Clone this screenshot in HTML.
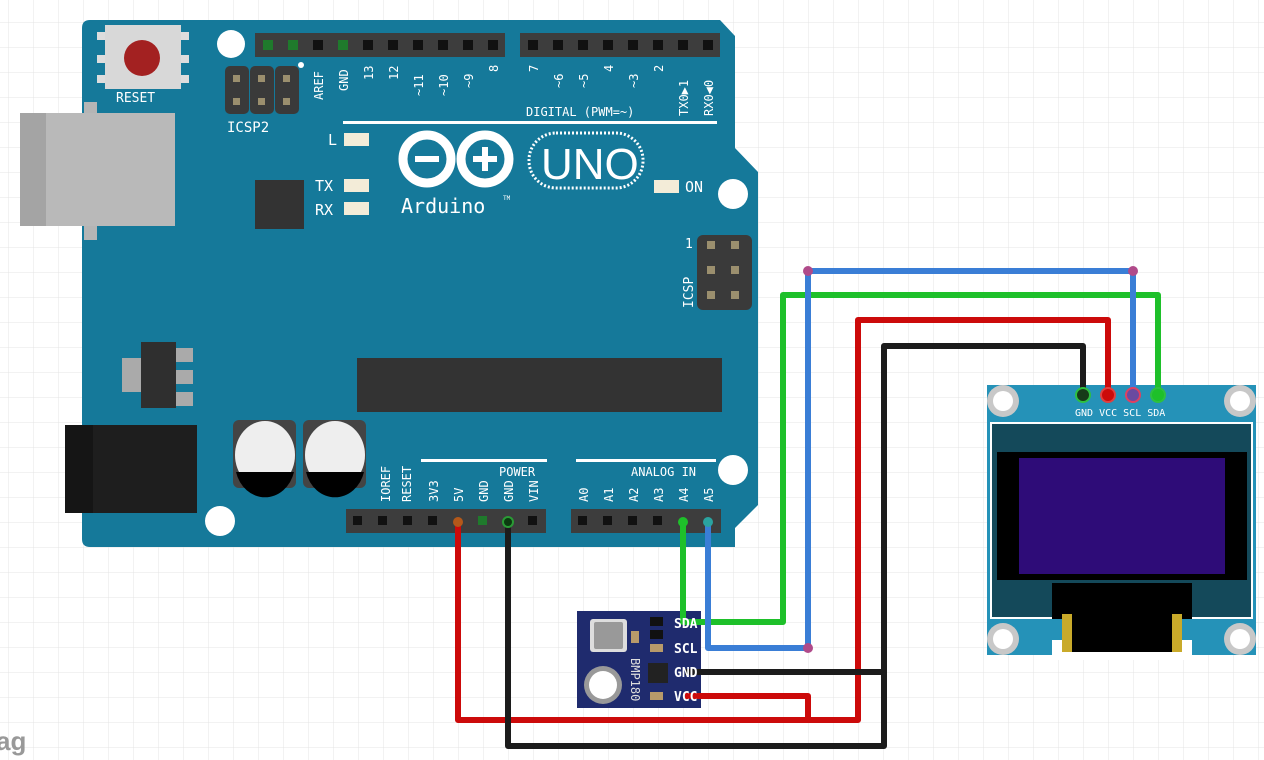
<!DOCTYPE html>
<html><head><meta charset="utf-8"><style>
html,body{margin:0;padding:0;background:#fff}
svg{display:block}
text{font-family:"DejaVu Sans Mono","Liberation Mono",monospace}
</style></head><body>
<svg width="1264" height="760" viewBox="0 0 1264 760" xmlns="http://www.w3.org/2000/svg">
<defs>
<pattern id="g" x="8" y="22" width="25" height="25" patternUnits="userSpaceOnUse">
<path d="M0 0H25M0 0V25" stroke="#e4e4e4" stroke-width="1" fill="none"/>
</pattern>
</defs>
<rect width="1264" height="760" fill="#fff"/>
<rect width="1264" height="760" fill="url(#g)"/>
<text x="-4" y="750" font-family="Liberation Sans,sans-serif" font-size="26" fill="#999" font-weight="bold" style="font-family:'Liberation Sans',sans-serif">ag</text>

<!-- board -->
<path d="M90 20 H720 L735 36 V148 L758 172 V505 L735 528 V547 H90 Q82 547 82 539 V28 Q82 20 90 20 Z" fill="#15799a"/>
<!-- USB -->
<rect x="84" y="102" width="13" height="138" fill="#b5b5b5"/>
<rect x="20" y="113" width="155" height="113" fill="#b9b9b9"/>
<rect x="20" y="113" width="26" height="113" fill="#a4a4a4"/>
<!-- reset -->
<rect x="97" y="32" width="8" height="8" fill="#ddd"/><rect x="181" y="32" width="8" height="8" fill="#ddd"/>
<rect x="97" y="55" width="8" height="8" fill="#ddd"/><rect x="181" y="55" width="8" height="8" fill="#ddd"/>
<rect x="97" y="75" width="8" height="8" fill="#ddd"/><rect x="181" y="75" width="8" height="8" fill="#ddd"/>
<rect x="105" y="25" width="76" height="64" fill="#d8d8d8"/>
<circle cx="142" cy="58" r="18" fill="#a32121"/>
<text x="116" y="102" font-size="13" fill="#fff">RESET</text>
<!-- holes -->
<circle cx="231" cy="44" r="14" fill="#fff"/>
<circle cx="733" cy="194" r="15" fill="#fff"/>
<circle cx="733" cy="470" r="15" fill="#fff"/>
<circle cx="220" cy="521" r="15" fill="#fff"/>
<!-- ICSP2 -->
<g fill="#3a3a3a"><rect x="225" y="66" width="24" height="48" rx="5"/><rect x="250" y="66" width="24" height="48" rx="5"/><rect x="275" y="66" width="24" height="48" rx="5"/></g>
<g fill="#9b8f6e"><rect x="233" y="75" width="7" height="7"/><rect x="258" y="75" width="7" height="7"/><rect x="283" y="75" width="7" height="7"/><rect x="233" y="98" width="7" height="7"/><rect x="258" y="98" width="7" height="7"/><rect x="283" y="98" width="7" height="7"/></g>
<circle cx="301" cy="65" r="3" fill="#fff"/>
<text x="227" y="132" font-size="14" fill="#fff">ICSP2</text>
<!-- top headers -->
<rect x="255" y="33" width="250" height="24" fill="#3d3d3d"/>
<rect x="520" y="33" width="200" height="24" fill="#3d3d3d"/>
<g fill="#111">
<rect x="263" y="40" width="10" height="10" fill="#1f7a2c"/><rect x="288" y="40" width="10" height="10" fill="#1f7a2c"/><rect x="313" y="40" width="10" height="10"/><rect x="338" y="40" width="10" height="10" fill="#1f7a2c"/><rect x="363" y="40" width="10" height="10"/><rect x="388" y="40" width="10" height="10"/><rect x="413" y="40" width="10" height="10"/><rect x="438" y="40" width="10" height="10"/><rect x="463" y="40" width="10" height="10"/><rect x="488" y="40" width="10" height="10"/>
<rect x="528" y="40" width="10" height="10"/><rect x="553" y="40" width="10" height="10"/><rect x="578" y="40" width="10" height="10"/><rect x="603" y="40" width="10" height="10"/><rect x="628" y="40" width="10" height="10"/><rect x="653" y="40" width="10" height="10"/><rect x="678" y="40" width="10" height="10"/><rect x="703" y="40" width="10" height="10"/>
</g>
<g font-size="12" fill="#fff">
<text transform="translate(323,100) rotate(-90)">AREF</text>
<text transform="translate(348,91) rotate(-90)">GND</text>
<text transform="translate(373,80) rotate(-90)">13</text>
<text transform="translate(398,80) rotate(-90)">12</text>
<text transform="translate(423,96) rotate(-90)">~11</text>
<text transform="translate(448,96) rotate(-90)">~10</text>
<text transform="translate(473,88) rotate(-90)">~9</text>
<text transform="translate(498,72) rotate(-90)">8</text>
<text transform="translate(538,72) rotate(-90)">7</text>
<text transform="translate(563,88) rotate(-90)">~6</text>
<text transform="translate(588,88) rotate(-90)">~5</text>
<text transform="translate(613,72) rotate(-90)">4</text>
<text transform="translate(638,88) rotate(-90)">~3</text>
<text transform="translate(663,72) rotate(-90)">2</text>
<text transform="translate(688,116) rotate(-90)">TX0▶1</text>
<text transform="translate(713,116) rotate(-90)">RX0◀0</text>
<text x="526" y="116">DIGITAL (PWM=~)</text>
</g>
<rect x="343" y="121" width="374" height="3" fill="#fff"/>
<!-- LEDs -->
<g font-size="15" fill="#fff"><text x="328" y="145">L</text><text x="315" y="191">TX</text><text x="315" y="215">RX</text><text x="685" y="192">ON</text></g>
<g fill="#f3ecd8"><rect x="344" y="133" width="25" height="13"/><rect x="344" y="179" width="25" height="13"/><rect x="344" y="202" width="25" height="13"/><rect x="654" y="180" width="25" height="13"/></g>
<rect x="255" y="180" width="49" height="49" fill="#333"/>
<!-- logo -->
<g stroke="#fff" stroke-width="9" fill="none"><circle cx="427" cy="159" r="24"/><circle cx="485" cy="159" r="24"/></g>
<rect x="415" y="156" width="24" height="6" fill="#fff"/>
<rect x="473" y="156" width="24" height="6" fill="#fff"/><rect x="482" y="147" width="6" height="24" fill="#fff"/>
<rect x="529" y="133" width="114" height="55" rx="27" fill="none" stroke="#fff" stroke-width="3" stroke-dasharray="2 2"/>
<text x="541" y="179" font-family="Liberation Sans,sans-serif" font-size="44" fill="#fff" style="font-family:'Liberation Sans',sans-serif">UNO</text>
<text x="401" y="213" font-size="20" fill="#fff">Arduino</text>
<text x="503" y="200" font-size="6" fill="#fff">TM</text>
<!-- ICSP -->
<rect x="697" y="235" width="55" height="75" rx="6" fill="#3a3a3a"/>
<g fill="#9b8f6e"><rect x="707" y="241" width="8" height="8"/><rect x="731" y="241" width="8" height="8"/><rect x="707" y="266" width="8" height="8"/><rect x="731" y="266" width="8" height="8"/><rect x="707" y="291" width="8" height="8"/><rect x="731" y="291" width="8" height="8"/></g>
<text x="685" y="248" font-size="13" fill="#fff">1</text>
<text transform="translate(693,308) rotate(-90)" font-size="13" fill="#fff">ICSP</text>
<!-- regulator -->
<rect x="122" y="358" width="20" height="34" fill="#aaa"/>
<rect x="175" y="348" width="18" height="14" fill="#aaa"/><rect x="175" y="370" width="18" height="14" fill="#aaa"/><rect x="175" y="392" width="18" height="14" fill="#aaa"/>
<rect x="141" y="342" width="35" height="66" fill="#2f2f2f"/>
<!-- chip -->
<rect x="357" y="358" width="365" height="54" fill="#333"/>
<!-- power jack -->
<rect x="65" y="425" width="132" height="88" fill="#1e1e1e"/>
<rect x="65" y="425" width="28" height="88" fill="#151515"/>
<!-- caps -->
<rect x="233" y="420" width="63" height="68" rx="6" fill="#444"/>
<rect x="303" y="420" width="63" height="68" rx="6" fill="#444"/>
<ellipse cx="265" cy="455" rx="30" ry="34" fill="#eee"/>
<ellipse cx="335" cy="455" rx="30" ry="34" fill="#eee"/>
<path d="M236 472 H294 A30 34 0 0 1 236 472Z" fill="#000"/>
<path d="M306 472 H364 A30 34 0 0 1 306 472Z" fill="#000"/>
<!-- bottom labels -->
<rect x="421" y="459" width="126" height="3" fill="#fff"/>
<rect x="576" y="459" width="140" height="3" fill="#fff"/>
<g font-size="12" fill="#fff">
<text x="499" y="476">POWER</text><text x="631" y="476">ANALOG IN</text>
<text transform="translate(390,502) rotate(-90)">IOREF</text>
<text transform="translate(411,502) rotate(-90)">RESET</text>
<text transform="translate(438,502) rotate(-90)">3V3</text>
<text transform="translate(463,502) rotate(-90)">5V</text>
<text transform="translate(488,502) rotate(-90)">GND</text>
<text transform="translate(513,502) rotate(-90)">GND</text>
<text transform="translate(538,502) rotate(-90)">VIN</text>
<text transform="translate(588,502) rotate(-90)">A0</text>
<text transform="translate(613,502) rotate(-90)">A1</text>
<text transform="translate(638,502) rotate(-90)">A2</text>
<text transform="translate(663,502) rotate(-90)">A3</text>
<text transform="translate(688,502) rotate(-90)">A4</text>
<text transform="translate(713,502) rotate(-90)">A5</text>
</g>
<rect x="346" y="509" width="200" height="24" fill="#3d3d3d"/>
<rect x="571" y="509" width="150" height="24" fill="#3d3d3d"/>
<g fill="#111">
<rect x="378" y="516" width="9" height="9"/><rect x="403" y="516" width="9" height="9"/><rect x="428" y="516" width="9" height="9"/><rect x="353" y="516" width="9" height="9"/><rect x="478" y="516" width="9" height="9" fill="#1f7a2c"/><rect x="528" y="516" width="9" height="9"/>
<rect x="578" y="516" width="9" height="9"/><rect x="603" y="516" width="9" height="9"/><rect x="628" y="516" width="9" height="9"/><rect x="653" y="516" width="9" height="9"/>
</g>

<!-- BMP180 -->
<rect x="577" y="611" width="124" height="97" fill="#1f2b6e"/>
<rect x="590" y="619" width="37" height="33" rx="3" fill="#ddd"/>
<rect x="594" y="622" width="29" height="27" rx="2" fill="#999"/>
<circle cx="603" cy="685" r="19" fill="#999"/><circle cx="603" cy="685" r="14" fill="#fff"/>
<rect x="631" y="631" width="8" height="12" fill="#b89a6a"/>
<rect x="650" y="617" width="13" height="9" fill="#111"/><rect x="650" y="630" width="13" height="9" fill="#111"/><rect x="650" y="644" width="13" height="8" fill="#b89a6a"/>
<rect x="648" y="663" width="20" height="20" fill="#222"/>
<rect x="650" y="692" width="13" height="8" fill="#b89a6a"/>
<text transform="translate(631,658) rotate(90)" font-size="12" fill="#ddd">BMP180</text>

<!-- OLED -->
<rect x="987" y="385" width="269" height="270" fill="#2592b8"/>
<rect x="1052" y="640" width="140" height="20" fill="#fff"/>
<g fill="#c8c8c8"><circle cx="1003" cy="401" r="16"/><circle cx="1240" cy="401" r="16"/><circle cx="1003" cy="639" r="16"/><circle cx="1240" cy="639" r="16"/></g>
<g fill="#fff"><circle cx="1003" cy="401" r="10"/><circle cx="1240" cy="401" r="10"/><circle cx="1003" cy="639" r="10"/><circle cx="1240" cy="639" r="10"/></g>
<rect x="991" y="423" width="261" height="195" fill="#14495a" stroke="#fff" stroke-width="2"/>
<rect x="997" y="452" width="250" height="128" fill="#000"/>
<rect x="1019" y="458" width="206" height="116" fill="#2e0c78"/>
<rect x="1052" y="583" width="140" height="36" fill="#000"/>
<rect x="1062" y="614" width="120" height="38" fill="#000"/>
<rect x="1062" y="614" width="10" height="38" fill="#c9aa2a"/><rect x="1172" y="614" width="10" height="38" fill="#c9aa2a"/>
<g font-family="Liberation Sans,sans-serif" font-size="10" fill="#fff" style="font-family:'Liberation Sans',sans-serif"><text x="1075" y="416">GND VCC SCL SDA</text></g>

<!-- wires -->
<g fill="none" stroke-width="6" stroke-linejoin="round">
<path d="M458 522 V720 H858 V320 H1108 V393" stroke="#cc0a0a"/>
<path d="M685 696 H808 V720" stroke="#cc0a0a"/>
<path d="M508 522 V746 H884 V346 H1083 V393" stroke="#1c1c1c"/>
<path d="M685 672 H884" stroke="#1c1c1c"/>
<path d="M683 522 V622 H783 V295 H1158 V393" stroke="#1ec02a"/>
<path d="M708 522 V648 H808 V271 H1133 V393" stroke="#3a7ed6"/>
</g>
<g><circle cx="458" cy="522" r="5" fill="#b4581a"/><circle cx="508" cy="522" r="5" fill="#0b3b10" stroke="#2a9b35" stroke-width="2"/><circle cx="683" cy="522" r="5" fill="#1ec02a"/><circle cx="708" cy="522" r="5" fill="#2aa3a0"/>
<circle cx="808" cy="271" r="5" fill="#b04a8a"/><circle cx="1133" cy="271" r="5" fill="#b04a8a"/>
<circle cx="808" cy="648" r="5" fill="#b04a8a"/>
<circle cx="1083" cy="395" r="7" fill="#163a18" stroke="#2ec040" stroke-width="2"/>
<circle cx="1108" cy="395" r="7" fill="#cc0a0a" stroke="#e04040" stroke-width="2"/>
<circle cx="1133" cy="395" r="7" fill="#6a4aa0" stroke="#e04060" stroke-width="2"/>
<circle cx="1158" cy="395" r="7" fill="#1ec02a" stroke="#2ec040" stroke-width="2"/>
</g>
<g font-family="Liberation Sans,sans-serif" font-size="13" font-weight="bold" fill="#fff" style="font-family:'Liberation Sans',sans-serif">
<text x="674" y="628">SDA</text><text x="674" y="653">SCL</text><text x="674" y="677">GND</text><text x="674" y="701">VCC</text>
</g>
</svg>
</body></html>
